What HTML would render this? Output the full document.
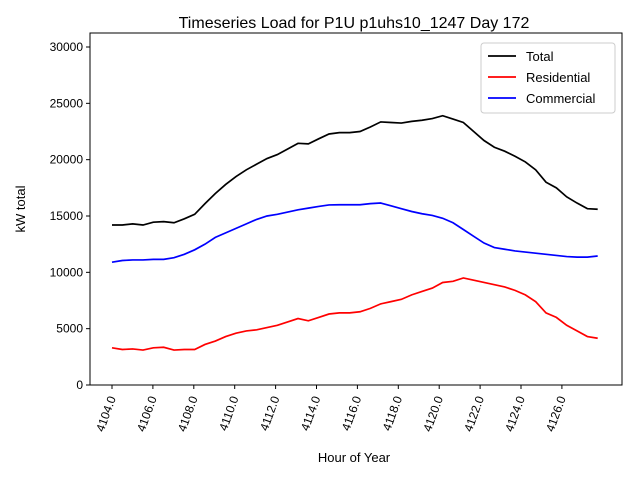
<!DOCTYPE html>
<html><head><meta charset="utf-8"><style>
body{margin:0;background:#fff}
svg{display:block;font-family:"Liberation Sans","DejaVu Sans",sans-serif}
</style></head><body>
<svg id="c" width="640" height="480"></svg>
<script>
const hours=[];for(let i=0;i<48;i++)hours.push(4104+i*23.75/47);
const commercial=[10900,11050,11100,11100,11150,11150,11300,11600,12000,12500,13100,13500,13900,14300,14700,15000,15150,15350,15550,15700,15850,15980,16000,16000,16000,16100,16150,15900,15650,15400,15200,15050,14800,14400,13800,13200,12600,12200,12050,11900,11800,11700,11600,11500,11400,11350,11350,11450];
const residential=[3300,3150,3200,3100,3300,3350,3100,3150,3150,3600,3900,4300,4600,4800,4900,5100,5300,5600,5900,5700,6000,6300,6400,6400,6500,6800,7200,7400,7600,8000,8300,8600,9100,9200,9500,9300,9100,8900,8700,8400,8000,7400,6400,6000,5300,4800,4300,4150];
const total=[14200,14200,14300,14200,14450,14500,14400,14750,15150,16100,17000,17800,18500,19100,19600,20100,20450,20950,21450,21400,21850,22280,22400,22400,22500,22900,23350,23300,23250,23400,23500,23650,23900,23600,23300,22500,21700,21100,20750,20300,19800,19100,18000,17500,16700,16150,15650,15600];
const yTicks=[0,5000,10000,15000,20000,25000,30000];
const xTicks=[4104,4106,4108,4110,4112,4114,4116,4118,4120,4122,4124,4126];
const NS="http://www.w3.org/2000/svg",svg=document.getElementById('c');
const L=90,R=622,T=33,B=385;
const X=h=>112+(h-4104)*20.45;
const Y=v=>385-v*338/30000;
function el(t,a,p){const e=document.createElementNS(NS,t);for(const k in a)e.setAttribute(k,a[k]);(p||svg).appendChild(e);return e;}
const frame=el('rect',{x:L,y:T,width:R-L,height:B-T,fill:'none',stroke:'#000','stroke-width':1});


yTicks.forEach(v=>{
  const y=Y(v);
  const t=el('line',{x1:L-4,x2:L,y1:y,y2:y,stroke:'#000'});
  
  
  const tx=el('text',{x:L-7,y:y+4,'text-anchor':'end','font-size':12});
  tx.textContent=v;
  
  
});
xTicks.forEach(h=>{
  const x=X(h);
  const t=el('line',{x1:x,x2:x,y1:B,y2:B+4,stroke:'#000'});
  
  
  const tx=el('text',{x:x+4,y:B+13,'text-anchor':'end','font-size':12,transform:`rotate(-70 ${x+4} ${B+13})`});
  tx.textContent=h.toFixed(1);
  
  
});
function series(arr,color,name){
  const p=el('polyline',{points:arr.map((v,i)=>X(hours[i])+','+Y(v)).join(' '),fill:'none',stroke:color,'stroke-width':1.7});
  
  
}
series(total,'#000','total-line');
series(residential,'#f00','residential-line');
series(commercial,'#00f','commercial-line');
const title=el('text',{x:354,y:28,'text-anchor':'middle','font-size':16});
title.textContent='Timeseries Load for P1U p1uhs10_1247  Day 172';


const xl=el('text',{x:354,y:462,'text-anchor':'middle','font-size':13});
xl.textContent='Hour of Year';


const yl=el('text',{x:25,y:209,'text-anchor':'middle','font-size':13,transform:'rotate(-90 25 209)'});
yl.textContent='kW total';


const lg=el('g',{});


el('rect',{x:481,y:43,width:134,height:70,rx:3,fill:'#fff',stroke:'#ccc'},lg);
[['Total','#000'],['Residential','#f00'],['Commercial','#00f']].forEach((d,i)=>{
  const y=56+i*21;
  const g=el('g',{},lg);
  
  
  el('line',{x1:488,x2:516,y1:y,y2:y,stroke:d[1],'stroke-width':1.7},g);
  const t=el('text',{x:526,y:y+5,'font-size':13},g);t.textContent=d[0];
});
</script>
</body></html>
